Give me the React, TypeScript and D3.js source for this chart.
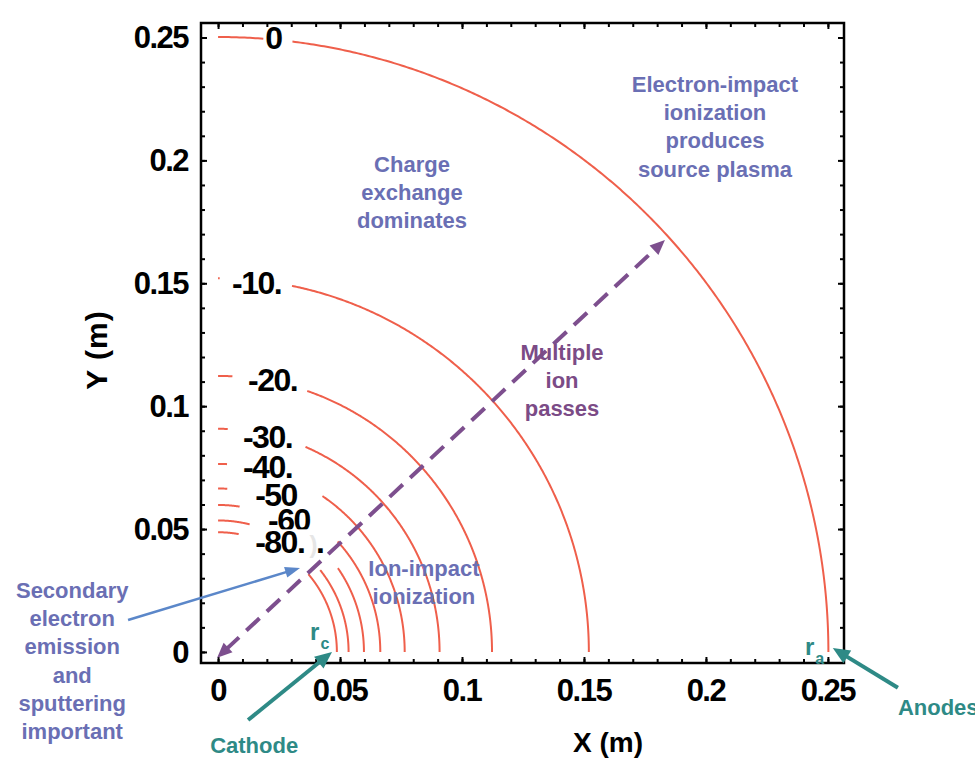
import React, { useEffect, useRef } from 'react';
import * as d3 from 'd3';

// potential contours (V) and the radius (m) each one sits at
const levels = [0, -10, -20, -30, -40, -50, -60, -70, -80];
const radii = [0.2502, 0.152, 0.1123, 0.0908, 0.0765, 0.0665, 0.0598, 0.0535, 0.0487];
// x range (m) left blank on each contour where its label is written
const gapFrom = [0.019, 0.001, 0.006, 0.004, 0.004, 0.004, 0.009, 0.013, 0.0085];
const gapTo = [0.0295, 0.03, 0.0365, 0.0357, 0.0426, 0.049, 0.049, 0.0418, 0.0369];
// contour labels (the -70 one is hidden in the original)
const labelText = ['0', '-10.', '-20.', '-30.', '-40.', '-50', '-60', '', '-80.'];
const labelX = [0.0193, 0.0057, 0.0123, 0.0102, 0.0102, 0.0152, 0.0205, 0, 0.0152];
const labelY = [0.2498, 0.1501, 0.1107, 0.0875, 0.0753, 0.0639, 0.0537, 0, 0.0448];

// axes
const majorTicks = [0, 0.05, 0.1, 0.15, 0.2, 0.25];
const tickLabels = ['0', '0.05', '0.1', '0.15', '0.2', '0.25'];
const minorTicks = d3.range(0, 0.2501, 0.01);

const FONT = '"Liberation Sans", Arial, Helvetica, sans-serif';
const RED = '#ef5f4b';
const BLUE = '#6a6fb4';
const PURPLE = '#7b4b86';
const TEAL = '#2e8a86';

// annotations: [text lines], centre x (m), first line y (m)
const notes = [
  { lines: ['Electron-impact', 'ionization', 'produces', 'source plasma'], x: 0.2037, y: 0.2311, color: BLUE },
  { lines: ['Charge', 'exchange', 'dominates'], x: 0.0795, y: 0.1985, color: BLUE },
  { lines: ['Multiple', 'ion', 'passes'], x: 0.141, y: 0.122, color: PURPLE },
  { lines: ['Ion-impact', 'ionization'], x: 0.0844, y: 0.0342, color: BLUE },
  { lines: ['Secondary', 'electron', 'emission', 'and', 'sputtering', 'important'], x: -0.0598, y: 0.0252, color: BLUE },
  { lines: ['Cathode'], x: 0.0148, y: -0.0378, color: TEAL },
];

export default function App() {
  const ref = useRef<SVGSVGElement>(null);

  useEffect(() => {
    const svg = d3.select(ref.current);
    svg.selectAll('*').remove();

    const x = d3.scaleLinear().domain([-0.007, 0.2566]).range([201, 844]);
    const y = d3.scaleLinear().domain([-0.0045, 0.2559]).range([663, 23]);
    const [x0, x1] = x.range();
    const [y0, y1] = y.range();

    // contours
    const angles = d3.range(90, -0.001, -0.25).map((a) => (a * Math.PI) / 180);
    radii.forEach((r, i) => {
      const pts = angles.map((a) => [r * Math.cos(a), r * Math.sin(a)]);
      const line = d3
        .line<number[]>()
        .defined((d) => d[0] <= gapFrom[i] || d[0] >= gapTo[i])
        .x((d) => x(d[0]))
        .y((d) => y(d[1]));
      svg
        .append('path')
        .datum(pts)
        .attr('fill', 'none')
        .attr('stroke', RED)
        .attr('stroke-width', 2)
        .attr('d', line);
    });

    // contour labels, each on a white patch
    levels.forEach((lv, i) => {
      if (!labelText[i]) return;
      const g = svg.append('g');
      const rect = g.append('rect').attr('fill', '#fff');
      const t = g
        .append('text')
        .attr('x', x(labelX[i]))
        .attr('y', y(labelY[i]))
        .attr('dy', '0.35em')
        .attr('font-family', FONT)
        .attr('font-weight', 'bold')
        .attr('font-size', 32)
        .attr('letter-spacing', -1.5)
        .attr('fill', '#000')
        .text(labelText[i]);
      if (lv === -80) {
        t.append('tspan').attr('fill', '#e6e6e6').attr('font-size', 24).text(' )');
        t.append('tspan').text('.');
      }
      const bb = (t.node() as SVGTextElement).getBBox();
      rect
        .attr('x', bb.x - 1)
        .attr('width', bb.width + 2)
        .attr('y', y(labelY[i]) - 12.5)
        .attr('height', 25);
    });

    // frame
    svg
      .append('rect')
      .attr('x', x0)
      .attr('y', y1)
      .attr('width', x1 - x0)
      .attr('height', y0 - y1)
      .attr('fill', 'none')
      .attr('stroke', '#000')
      .attr('stroke-width', 2.5);

    const tickAxis = (axis: d3.Axis<d3.NumberValue>, tr: string, vals: number[], len: number) => {
      const g = svg
        .append('g')
        .attr('transform', tr)
        .call(axis.tickValues(vals).tickSize(-len).tickFormat(() => ''));
      g.select('.domain').remove();
      g.selectAll('line').attr('stroke', '#000').attr('stroke-width', 2);
    };
    tickAxis(d3.axisBottom(x), `translate(0,${y0})`, minorTicks, 4);
    tickAxis(d3.axisTop(x), `translate(0,${y1})`, minorTicks, 4);
    tickAxis(d3.axisLeft(y), `translate(${x0},0)`, minorTicks, 4);
    tickAxis(d3.axisRight(y), `translate(${x1},0)`, minorTicks, 4);
    tickAxis(d3.axisBottom(x), `translate(0,${y0})`, majorTicks, 6);
    tickAxis(d3.axisTop(x), `translate(0,${y1})`, majorTicks, 6);
    tickAxis(d3.axisLeft(y), `translate(${x0},0)`, majorTicks, 6);
    tickAxis(d3.axisRight(y), `translate(${x1},0)`, majorTicks, 6);

    const tickText = (sel: any) =>
      sel
        .attr('font-family', FONT)
        .attr('font-weight', 'bold')
        .attr('font-size', 31)
        .attr('letter-spacing', -1.5)
        .attr('fill', '#000');

    svg
      .selectAll('.xl')
      .data(majorTicks)
      .join('text')
      .attr('x', (d) => x(d))
      .attr('y', 690)
      .attr('dy', '0.35em')
      .attr('text-anchor', 'middle')
      .call(tickText)
      .text((d, i) => tickLabels[i]);

    svg
      .selectAll('.yl')
      .data(majorTicks)
      .join('text')
      .attr('x', 188)
      .attr('y', (d) => y(d))
      .attr('dy', '0.35em')
      .attr('text-anchor', 'end')
      .call(tickText)
      .text((d, i) => tickLabels[i]);

    // axis titles
    svg
      .append('text')
      .attr('x', 608)
      .attr('y', 742)
      .attr('dy', '0.35em')
      .attr('text-anchor', 'middle')
      .attr('font-family', FONT)
      .attr('font-weight', 'bold')
      .attr('font-size', 28)
      .text('X (m)');
    svg
      .append('text')
      .attr('transform', 'translate(96,350) rotate(-90)')
      .attr('dy', '0.35em')
      .attr('text-anchor', 'middle')
      .attr('font-family', FONT)
      .attr('font-weight', 'bold')
      .attr('font-size', 30)
      .attr('letter-spacing', 1)
      .text('Y (m)');

    // arrows
    const arrow = (
      ax: number, ay: number, bx: number, by: number,
      color: string, w: number, hl: number, hw: number,
      dash: string | null, both: boolean
    ) => {
      const p1 = [x(ax), y(ay)];
      const p2 = [x(bx), y(by)];
      const len = Math.hypot(p2[0] - p1[0], p2[1] - p1[1]);
      const ux = (p2[0] - p1[0]) / len;
      const uy = (p2[1] - p1[1]) / len;
      const s = both ? hl * 0.8 : 0;
      const e = hl * 0.8;
      svg
        .append('line')
        .attr('x1', p1[0] + ux * s)
        .attr('y1', p1[1] + uy * s)
        .attr('x2', p2[0] - ux * e)
        .attr('y2', p2[1] - uy * e)
        .attr('stroke', color)
        .attr('stroke-width', w)
        .attr('stroke-dasharray', dash);
      const head = (tx: number, ty: number, dx: number, dy: number) => {
        const bxp = tx - dx * hl;
        const byp = ty - dy * hl;
        svg
          .append('polygon')
          .attr('fill', color)
          .attr(
            'points',
            [
              [tx, ty],
              [bxp - dy * hw / 2, byp + dx * hw / 2],
              [bxp + dy * hw / 2, byp - dx * hw / 2],
            ].join(' ')
          );
      };
      head(p2[0], p2[1], ux, uy);
      if (both) head(p1[0], p1[1], -ux, -uy);
    };

    arrow(-0.0004, -0.0024, 0.1832, 0.1676, '#7d4f8e', 4, 15, 13, '18,10', true);
    arrow(-0.0369, 0.013, 0.0336, 0.0342, '#5b87c9', 2.5, 15, 11, null, false);
    arrow(0.0123, -0.0277, 0.0467, 0.0, TEAL, 4, 17, 15, null, false);
    arrow(0.2787, -0.0146, 0.252, 0.0016, TEAL, 4, 17, 15, null, false);

    // text annotations
    notes.forEach((n) => {
      const t = svg
        .append('text')
        .attr('x', x(n.x))
        .attr('y', y(n.y))
        .attr('dy', '0.35em')
        .attr('text-anchor', 'middle')
        .attr('font-family', FONT)
        .attr('font-weight', 'bold')
        .attr('font-size', 22)
        .attr('fill', n.color);
      n.lines.forEach((l, j) => {
        t.append('tspan').attr('x', x(n.x)).attr('dy', j === 0 ? '0.35em' : 28.3).text(l);
      });
    });

    svg
      .append('text')
      .attr('x', x(0.2787))
      .attr('y', y(-0.0224))
      .attr('dy', '0.35em')
      .attr('font-family', FONT)
      .attr('font-weight', 'bold')
      .attr('font-size', 22)
      .attr('fill', TEAL)
      .text('Anodes');

    // r_c and r_a
    const sub = (px: number, py: number, main: string, s: string) => {
      const t = svg
        .append('text')
        .attr('x', x(px))
        .attr('y', y(py))
        .attr('dy', '0.35em')
        .attr('font-family', FONT)
        .attr('font-weight', 'bold')
        .attr('font-size', 24)
        .attr('fill', TEAL);
      t.append('tspan').text(main);
      t.append('tspan').attr('font-size', 16).attr('dy', 9).attr('dx', 1).text(s);
    };
    sub(0.0377, 0.0081, 'r', 'c');
    sub(0.2406, 0.002, 'r', 'a');
  }, []);

  return (
    <svg
      ref={ref}
      width={975}
      height={760}
      style={{ position: 'absolute', left: 0, top: 0, background: '#fff' }}
    />
  );
}
